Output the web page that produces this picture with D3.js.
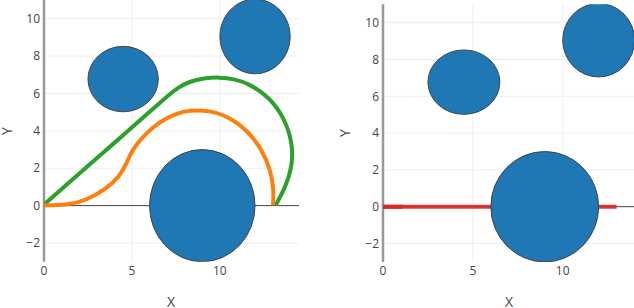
<!DOCTYPE html>
<html>
<head>
<meta charset="utf-8">
<script src="https://cdn.jsdelivr.net/npm/d3@7"></script>
<style>
  html, body { margin: 0; padding: 0; background: #fff; }
  svg { display: block; font-family: "Open Sans", "Noto Sans", sans-serif; }
</style>
</head>
<body>
<svg id="chart" width="634" height="308"></svg>
<script>
// ---------- data ----------
const xTicks = [0, 5, 10];
const yTicks = [-2, 0, 2, 4, 6, 8, 10];

// obstacles: centre x, centre y, radius x, radius y
const obstacleCx = [9, 4.5, 12];
const obstacleCy = [0, 6.77, 9.05];
const obstacleRx = [3, 2, 2];
const obstacleRy = [3, 1.75, 2.0];

const greenX = [0, 1.5, 3, 4.87, 6.5, 7.13, 7.6, 8.26, 9.1, 9.96, 10.8, 11.66, 12.79, 13.64, 14.15, 14.11, 13.74, 13.17];
const greenY = [0.05, 1.3, 2.53, 4.07, 5.43, 5.95, 6.3, 6.64, 6.82, 6.87, 6.78, 6.52, 5.82, 4.75, 3.32, 2.07, 1.0, 0.02];

const orangeX = [0, 1.28, 2.42, 3.55, 4.3, 4.72, 4.96, 5.43, 6.19, 6.94, 7.51, 8.26, 9.39, 10.53, 11.66, 12.41, 12.89, 13.07, 13.02];
const orangeY = [0.02, 0.02, 0.28, 0.91, 1.55, 2.3, 2.87, 3.5, 4.21, 4.66, 4.93, 5.1, 5.1, 4.75, 3.94, 2.96, 1.89, 0.82, 0.02];

const redX = [0, 13];
const redY = [0, 0];
const redStartX = [0, 1.1];
const redStartY = [0, 0];

// ---------- drawing ----------
const svg = d3.select("#chart");

const panels = [
  { id: "a", xDomain: [0, 14.5], xRange: [44, 299], yRange: [261.7, 0],
    xTitle: [171, 302], yTitle: [7, 131],
    series: [
      { xs: greenX, ys: greenY, color: "#2ca02c", opacity: 1 },
      { xs: orangeX, ys: orangeY, color: "#ff7f0e", opacity: 1 }
    ] },
  { id: "b", xDomain: [0, 14], xRange: [383, 634.6], yRange: [261.9, 4.3],
    xTitle: [509, 302], yTitle: [345, 133],
    series: [
      { xs: redX, ys: redY, color: "#d62728", opacity: 0.9 },
      { xs: redStartX, ys: redStartY, color: "#d62728", opacity: 0.9 }
    ] }
];

panels.forEach(p => {
  const x = d3.scaleLinear().domain(p.xDomain).range(p.xRange);
  const y = d3.scaleLinear().domain([-3, 11]).range(p.yRange);
  const [x0, x1] = p.xRange;
  const [y1, y0] = p.yRange;

  svg.append("clipPath").attr("id", "clip-" + p.id)
    .append("rect").attr("x", x0).attr("y", y0).attr("width", x1 - x0).attr("height", y1 - y0);

  const g = svg.append("g");

  // grid
  g.selectAll(".vg").data(xTicks.filter(t => t !== 0)).join("line")
    .attr("x1", d => x(d)).attr("x2", d => x(d)).attr("y1", y0).attr("y2", y1)
    .attr("stroke", "#eeeeee").attr("stroke-width", 1);
  g.selectAll(".hg").data(yTicks.filter(t => t !== 0)).join("line")
    .attr("x1", x0).attr("x2", x1).attr("y1", d => y(d)).attr("y2", d => y(d))
    .attr("stroke", "#eeeeee").attr("stroke-width", 1);

  // zero line
  g.append("line").attr("x1", x0).attr("x2", x1).attr("y1", y(0)).attr("y2", y(0))
    .attr("stroke", "#444").attr("stroke-width", 1);

  // axis line at left (x = 0)
  g.append("line").attr("x1", x(0)).attr("x2", x(0)).attr("y1", y0).attr("y2", y1)
    .attr("stroke", "#999").attr("stroke-width", 2.5);

  // series
  const plot = g.append("g").attr("clip-path", `url(#clip-${p.id})`);
  p.series.forEach(s => {
    const pts = s.xs.map((v, i) => [v, s.ys[i]]);
    plot.append("path").datum(pts)
      .attr("d", d3.line().x(d => x(d[0])).y(d => y(d[1])).curve(d3.curveBasis))
      .attr("fill", "none").attr("stroke", s.color).attr("stroke-width", 4)
      .attr("stroke-opacity", s.opacity)
      .attr("stroke-linejoin", "round");
  });

  // obstacles
  plot.selectAll(".obs").data(obstacleCx.map((c, i) => i)).join("ellipse")
    .attr("cx", i => x(obstacleCx[i]))
    .attr("cy", i => y(obstacleCy[i]))
    .attr("rx", i => x(obstacleCx[i] + obstacleRx[i]) - x(obstacleCx[i]))
    .attr("ry", i => y(obstacleCy[i]) - y(obstacleCy[i] + obstacleRy[i]))
    .attr("fill", "#1f77b4").attr("stroke", "#444").attr("stroke-width", 1);

  // tick labels
  g.selectAll(".xt").data(xTicks).join("text")
    .attr("x", d => x(d)).attr("y", 274.5).attr("text-anchor", "middle")
    .attr("font-size", 12).attr("fill", "#444").text(d => d);
  g.selectAll(".yt").data(yTicks).join("text")
    .attr("x", x0 - 4).attr("y", d => y(d)).attr("dy", "0.35em").attr("text-anchor", "end")
    .attr("font-size", 12).attr("fill", "#444").text(d => d < 0 ? "\u2212" + Math.abs(d) : d);

  // axis titles
  g.append("text").attr("x", p.xTitle[0]).attr("y", p.xTitle[1]).attr("dy", "0.35em")
    .attr("text-anchor", "middle").attr("font-size", 14).attr("fill", "#444").text("X");
  g.append("text").attr("transform", `translate(${p.yTitle[0]},${p.yTitle[1]}) rotate(-90)`)
    .attr("dy", "0.35em").attr("text-anchor", "middle").attr("font-size", 14).attr("fill", "#444").text("Y");
});
</script>
</body>
</html>
